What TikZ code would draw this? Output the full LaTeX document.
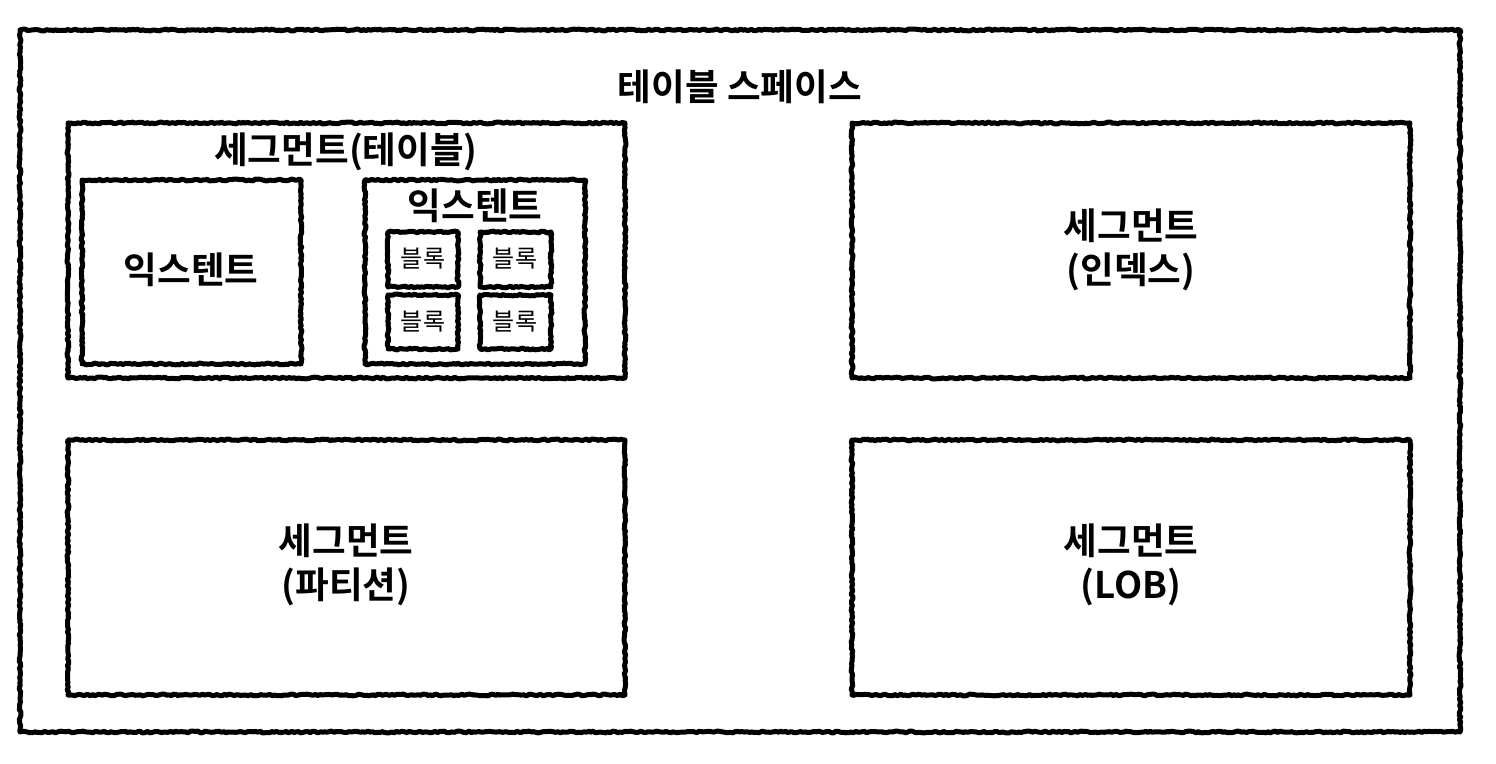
\documentclass[tikz,border=0pt]{standalone}
\usepackage{fontspec}
\setmainfont{Noto Sans CJK KR}[BoldFont={Noto Sans CJK KR Bold}]
\usetikzlibrary{decorations.pathmorphing}
\tikzset{
  sketch/.style={draw=black, line width=2.5pt, line join=round,
    decorate, decoration={random steps, segment length=1.2pt, amplitude=0.45pt}},
  lbl/.style={font=\bfseries\fontsize{18.3}{22}\selectfont, align=center, inner sep=0pt},
  small/.style={font=\fontsize{12}{14}\selectfont, inner sep=0pt},
}
\begin{document}
\begin{tikzpicture}[x=0.5pt, y=-0.5pt]
\useasboundingbox (0,0) rectangle (1496,764);
\pgfmathsetseed{7}
% outer table space
\draw[sketch] (20,30) rectangle (1460,732);
\node[lbl] (ts) at (740,87) {테이블 스페이스};
% segment (table)
\draw[sketch] (68,123) rectangle (625,378);
\node[lbl] (segt) at (346,152) {세그먼트(테이블)};
\draw[sketch] (82,180) rectangle (301,364);
\node[lbl] (ext1) at (191,270) {익스텐트};
\draw[sketch] (365,180) rectangle (585,364);
\node[lbl] (ext2) at (475,206) {익스텐트};
\draw[sketch] (388,232) rectangle (458,287);
\node[small] (b1) at (423,259) {블록};
\draw[sketch] (480,232) rectangle (551,287);
\node[small] (b2) at (515,259) {블록};
\draw[sketch] (388,295) rectangle (458,349);
\node[small] (b3) at (423,322) {블록};
\draw[sketch] (480,295) rectangle (551,349);
\node[small] (b4) at (515,322) {블록};
% other segments
\draw[sketch] (852,123) rectangle (1410,378);
\node[lbl] (segi) at (1131,250) {세그먼트\\(인덱스)};
\draw[sketch] (68,440) rectangle (625,695);
\node[lbl] (segp) at (346,565) {세그먼트\\(파티션)};
\draw[sketch] (852,440) rectangle (1410,695);
\node[lbl] (segl) at (1131,565) {세그먼트\\(LOB)};
\end{tikzpicture}
\end{document}
